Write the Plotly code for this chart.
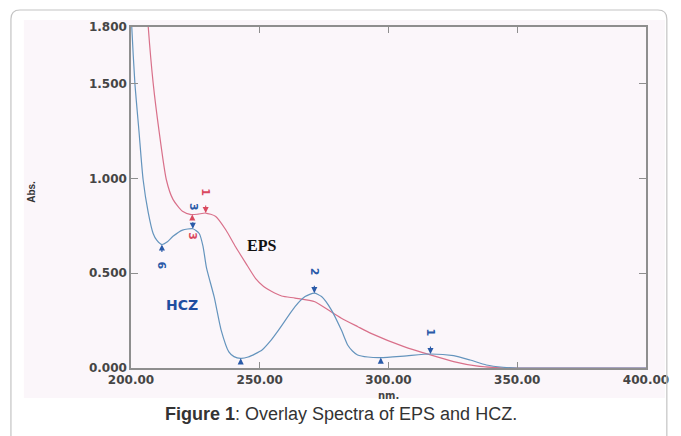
import plotly.graph_objects as go

# ---------------- data ----------------
hcz_nm = [200.0, 200.3, 201.5, 203.1, 204.7, 206.7, 208.6, 210.0, 212.0, 214.0, 216.3, 220.0,
          224.0, 226.5, 228.0, 229.3, 232.3, 235.0, 238.0, 240.0, 242.6, 245.5, 250.9, 254.0,
          257.3, 263.7, 267.6, 271.2, 274.0, 277.8, 281.7, 284.2, 286.0, 288.0, 292.0, 297.0,
          306.0, 316.3, 325.3, 331.7, 338.0, 344.5, 350.0, 400.0]
hcz_abs = [1.92, 1.80, 1.505, 1.25, 0.995, 0.82, 0.71, 0.675, 0.652, 0.665, 0.695, 0.728,
           0.735, 0.71, 0.64, 0.53, 0.375, 0.20, 0.085, 0.06, 0.051, 0.058, 0.095, 0.14,
           0.20, 0.324, 0.377, 0.395, 0.377, 0.307, 0.20, 0.12, 0.09, 0.069, 0.058, 0.055,
           0.063, 0.074, 0.065, 0.042, 0.016, 0.004, 0.0, 0.0]

eps_nm = [206.0, 206.7, 208.6, 210.9, 213.7, 216.3, 220.0, 223.3, 226.0, 229.0, 232.9, 236.8,
          240.6, 244.5, 248.5, 251.5, 254.5, 258.5, 263.7, 271.4, 276.5, 281.7, 288.1, 293.2,
          306.0, 316.3, 325.3, 334.0, 342.0, 350.0, 400.0]
eps_abs = [1.95, 1.80, 1.505, 1.25, 0.995, 0.89, 0.827, 0.81, 0.812, 0.818, 0.80, 0.73,
           0.64, 0.555, 0.47, 0.43, 0.405, 0.38, 0.369, 0.35, 0.307, 0.263, 0.218, 0.183,
           0.113, 0.069, 0.034, 0.011, 0.002, 0.0, 0.0]

x_ticks = [200, 250, 300, 350, 400]
y_ticks = [0.0, 0.5, 1.0, 1.5, 1.8]

# peak / valley markers: (nm, abs at tip, label, direction)
blue_marks = [(212.0, 0.652, "6", "up"), (224.0, 0.735, "3", "down"),
              (271.2, 0.395, "2", "down"), (316.3, 0.074, "1", "down"),
              (242.6, 0.051, "", "up"), (297.0, 0.055, "", "up")]
red_marks = [(229.0, 0.818, "1", "down"), (223.8, 0.81, "3", "up")]

BLUE_LINE = "#6494bd"
RED_LINE = "#d9708a"
BLUE_TXT = "#2a5aa8"
RED_TXT = "#d9485e"
AXIS = "#8e8e8e"
TINT = "#fbf6fa"

L, R, T, B = 131, 31, 27, 68
W, H = 681, 436
PW, PH = W - L - R, H - T - B


def px(xp):
    return (xp - L) / PW


def py(yp):
    return (H - B - yp) / PH


fig = go.Figure()
fig.add_trace(go.Scatter(x=eps_nm, y=eps_abs, mode="lines", name="EPS",
                         line=dict(color=RED_LINE, width=1.2, shape="spline", smoothing=0.6)))
fig.add_trace(go.Scatter(x=hcz_nm, y=hcz_abs, mode="lines", name="HCZ",
                         line=dict(color=BLUE_LINE, width=1.2, shape="spline", smoothing=0.6)))

ann = []


def add_mark(x, y, label, color, direction, arrow_len=9, gap=12, short=False):
    sign = -1 if direction == "down" else 1   # tail above tip => negative ay
    alen = 7 if short else arrow_len
    ann.append(dict(x=x, y=y, xref="x", yref="y", text="", showarrow=True,
                    ax=0, ay=sign * alen, arrowhead=2, arrowsize=1.1, arrowwidth=1.1,
                    arrowcolor=color))
    if label:
        ann.append(dict(x=x, y=y, xref="x", yref="y", text="<b>%s</b>" % label,
                        showarrow=False, textangle=90, yshift=-sign * (alen + gap),
                        xanchor="center", yanchor="middle",
                        font=dict(family="DejaVu Sans", size=11, color=color)))


for (x, y, lab, d) in blue_marks:
    if lab == "3":
        add_mark(x, y, lab, BLUE_TXT, d, arrow_len=8, gap=14)
    elif lab == "":
        add_mark(x, y, lab, BLUE_TXT, d, short=True)
    else:
        add_mark(x, y, lab, BLUE_TXT, d)
for (x, y, lab, d) in red_marks:
    if lab == "3":
        add_mark(x, y, lab, RED_TXT, d, arrow_len=6, gap=16)
    else:
        add_mark(x, y, lab, RED_TXT, d)


def text_ann(xp, yp, text, font, angle=0):
    return dict(x=px(xp), y=py(yp), xref="paper", yref="paper", text=text, showarrow=False,
                xanchor="center", yanchor="middle", textangle=angle, font=font)


ann += [
    text_ann(263, 245, "<b>EPS</b>", dict(family="Liberation Serif", size=16, color="#111111")),
    text_ann(182, 305, "<b>HCZ</b>", dict(family="DejaVu Sans", size=14, color="#1f4ea0")),
    text_ann(30, 192, "<b>Abs.</b>", dict(family="Liberation Sans", size=10, color="#333333"), -90),
    text_ann(390, 395, "<b>nm.</b>", dict(family="DejaVu Sans", size=10, color="#444444")),
    text_ann(343, 414, "<b>Figure 1</b>: Overlay Spectra of EPS and HCZ.",
             dict(family="Liberation Sans", size=18, color="#333333")),
]

shapes = [
    dict(type="rect", xref="paper", yref="paper", x0=px(23), x1=px(669), y0=py(20), y1=py(398),
         fillcolor=TINT, line=dict(width=0), layer="below"),
]
# rounded outer frame
r = 9
x0, x1, y0, y1 = 10, 671, 10, 450
path = ("M %f %f L %f %f Q %f %f %f %f L %f %f Q %f %f %f %f L %f %f" % (
    px(x0), py(y1), px(x0), py(y0 + r), px(x0), py(y0), px(x0 + r), py(y0),
    px(x1 - r), py(y0), px(x1), py(y0), px(x1), py(y0 + r), px(x1), py(y1)))
shapes.append(dict(type="path", xref="paper", yref="paper", path=path,
                   line=dict(color="#c4c4c4", width=1.2)))

tickfont = dict(family="DejaVu Sans", size=12, color="#454545", weight="bold")
fig.update_layout(
    width=W, height=H, margin=dict(l=L, r=R, t=T, b=B),
    paper_bgcolor="white", plot_bgcolor=TINT, showlegend=False,
    annotations=ann, shapes=shapes,
    xaxis=dict(range=[200, 400], tickvals=x_ticks, tickformat=".2f", ticks="inside",
               ticklen=6, tickcolor=AXIS, tickwidth=1, showline=True, linecolor=AXIS,
               linewidth=1.5, mirror="ticks", showgrid=False, zeroline=False,
               tickfont=tickfont, ticklabelstandoff=0),
    yaxis=dict(range=[0, 1.8], tickvals=y_ticks, tickformat=".3f", ticks="inside",
               ticklen=7, tickcolor=AXIS, tickwidth=1, showline=True, linecolor=AXIS,
               linewidth=1.5, mirror="ticks", showgrid=False, zeroline=False,
               tickfont=tickfont, ticklabelstandoff=0),
)

fig.write_html("out.html", config={"displayModeBar": False},
               post_script="document.body.style.margin='0';document.body.style.overflow='hidden';")
